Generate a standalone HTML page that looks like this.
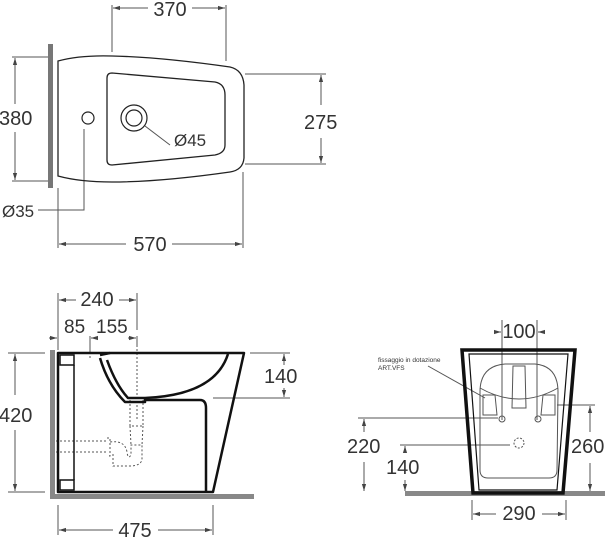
<!DOCTYPE html>
<html><head><style>html,body{margin:0;padding:0;background:#fff}svg{display:block}text{font-family:"Liberation Sans",sans-serif;fill:#333}</style></head><body>
<svg width="605" height="538" viewBox="0 0 605 538" xmlns="http://www.w3.org/2000/svg">
<defs><marker id="a" viewBox="0 0 10 10" refX="10" refY="5" markerWidth="7" markerHeight="7" orient="auto-start-reverse"><path d="M0,2 L10,5 L0,8z" fill="#444"/></marker></defs>
<g stroke="#555" stroke-width="1" fill="none">
<line x1="112" y1="5" x2="112" y2="52"/><line x1="226" y1="5" x2="226" y2="61"/>
<line x1="113" y1="8" x2="148" y2="8" marker-start="url(#a)"/><line x1="192" y1="8" x2="225" y2="8" marker-end="url(#a)"/>
<line x1="12" y1="57" x2="48" y2="57"/><line x1="12" y1="181" x2="48" y2="181"/>
<line x1="15" y1="58" x2="15" y2="104" marker-start="url(#a)"/><line x1="15" y1="132" x2="15" y2="180" marker-end="url(#a)"/>
<line x1="245" y1="74" x2="326" y2="74"/><line x1="245" y1="164" x2="326" y2="164"/>
<line x1="321" y1="75" x2="321" y2="105" marker-start="url(#a)"/><line x1="321" y1="138" x2="321" y2="163" marker-end="url(#a)"/>
<polyline points="84,129 84,210 38,210"/>
<line x1="145" y1="126" x2="170" y2="145"/>
<line x1="58" y1="188" x2="58" y2="248"/><line x1="243" y1="172" x2="243" y2="248"/>
<line x1="59" y1="244" x2="126" y2="244" marker-start="url(#a)"/><line x1="172" y1="244" x2="242" y2="244" marker-end="url(#a)"/>
</g>
<rect x="48" y="44" width="5" height="144" fill="#777"/>
<path d="M58,61 Q80,55 112,56 Q160,57 230,67 Q243,70 244,85 L244,158 Q243,170 230,172 Q160,182 112,182 Q80,182 58,176 Z" fill="none" stroke="#222" stroke-width="1.3"/>
<path d="M112,73 L215,82 Q225,84 225,95 L225,145 Q225,153 215,155 L112,165 Q107,165 107,160 L107,78 Q107,73 112,73 Z" fill="none" stroke="#222" stroke-width="1.3"/>
<circle cx="88" cy="118" r="6" fill="none" stroke="#222" stroke-width="1.2"/>
<circle cx="134" cy="118" r="13" fill="none" stroke="#222" stroke-width="1.2"/>
<circle cx="134" cy="118" r="8" fill="none" stroke="#222" stroke-width="1.2"/>
<g font-size="20">
<text x="170" y="16" text-anchor="middle">370</text>
<text x="-1" y="125">380</text>
<text x="304" y="129">275</text>
<text x="174" y="146" font-size="17">Ø45</text>
<text x="2" y="217" font-size="17">Ø35</text>
<text x="150" y="251" text-anchor="middle">570</text>
<text x="97" y="306" text-anchor="middle">240</text>
<text x="64" y="333" font-size="19">85</text>
<text x="96" y="333" font-size="19">155</text>
<text x="-1" y="422">420</text>
<text x="264" y="383">140</text>
<text x="135" y="537" text-anchor="middle">475</text>
<text x="519" y="338" text-anchor="middle">100</text>
<text x="347" y="453">220</text>
<text x="386" y="474">140</text>
<text x="571" y="453">260</text>
<text x="519" y="520" text-anchor="middle">290</text>
</g>
<g stroke="#555" stroke-width="1" fill="none">
<line x1="58" y1="293" x2="58" y2="350"/><line x1="137" y1="293" x2="137" y2="330"/>
<line x1="59" y1="300" x2="76" y2="300" marker-start="url(#a)"/><line x1="119" y1="300" x2="136" y2="300" marker-end="url(#a)"/>
<line x1="90" y1="336" x2="90" y2="352"/><line x1="137" y1="336" x2="137" y2="345"/>
<line x1="49" y1="338" x2="57" y2="338" marker-end="url(#a)"/><line x1="91" y1="338" x2="97" y2="338" marker-start="url(#a)"/><line x1="128" y1="338" x2="136" y2="338" marker-end="url(#a)"/>
<line x1="8" y1="353" x2="45" y2="353"/><line x1="8" y1="492" x2="45" y2="492"/>
<line x1="15" y1="354" x2="15" y2="395" marker-start="url(#a)"/><line x1="15" y1="430" x2="15" y2="491" marker-end="url(#a)"/>
<line x1="250" y1="353" x2="290" y2="353"/><line x1="213" y1="398" x2="290" y2="398"/>
<line x1="284" y1="354" x2="284" y2="365" marker-start="url(#a)"/><line x1="284" y1="388" x2="284" y2="397" marker-end="url(#a)"/>
<line x1="58" y1="505" x2="58" y2="535"/><line x1="213" y1="505" x2="213" y2="535"/>
<line x1="59" y1="530" x2="113" y2="530" marker-start="url(#a)"/><line x1="158" y1="530" x2="212" y2="530" marker-end="url(#a)"/>
<g stroke-dasharray="2,2"><line x1="137" y1="345" x2="137" y2="420"/><line x1="90" y1="352" x2="90" y2="360"/>
<path d="M52,441 L107,441 M52,452 L107,452 M107,438 L110,438 L110,456 L107,456 M110,442 Q125,440 127,452 Q128,460 131,455 L131,445 L142,445 L142,460 Q140,466 130,466 L113,466 L113,452"/>
<path d="M130,400 L130,426 L143,426 L143,400 M130,426 L131,445 M143,426 L142,445"/></g>
</g>
<rect x="50" y="350" width="5" height="148" fill="#888"/><rect x="50" y="494" width="204" height="5" fill="#888"/>
<g stroke="#111" stroke-width="2.5" fill="none" stroke-linejoin="round">
<path d="M58,353 L244,353 L213,492 L58,492 Z"/>
<path d="M228,354 Q215,395 145,398"/>
<path d="M100,355 L110,353 M100,358 Q108,385 125,402 L145,402 L145,398 M107,360 Q116,385 128,398 L145,398"/>
<path d="M145,400 L200,400 Q206,400 206,408 L206,492"/>
</g>
<g stroke="#111" stroke-width="1.5" fill="none">
<rect x="60" y="355" width="14" height="10"/><rect x="60" y="480" width="14" height="10"/>
<line x1="74" y1="365" x2="74" y2="480"/>
</g>
<g stroke="#555" stroke-width="1" fill="none">
<line x1="502" y1="320" x2="502" y2="420"/><line x1="537" y1="320" x2="537" y2="420"/>
<line x1="494" y1="332" x2="501" y2="332" marker-end="url(#a)"/><line x1="545" y1="332" x2="538" y2="332" marker-end="url(#a)"/>
<line x1="557" y1="405" x2="595" y2="405"/>
<line x1="590" y1="406" x2="590" y2="432" marker-start="url(#a)"/><line x1="590" y1="463" x2="590" y2="491" marker-end="url(#a)"/>
<line x1="358" y1="418" x2="498" y2="418"/>
<line x1="364" y1="419" x2="364" y2="432" marker-start="url(#a)"/><line x1="364" y1="462" x2="364" y2="491" marker-end="url(#a)"/>
<line x1="400" y1="445" x2="510" y2="445"/>
<line x1="405" y1="446" x2="405" y2="452" marker-start="url(#a)"/><line x1="405" y1="480" x2="405" y2="491" marker-end="url(#a)"/>
<line x1="472" y1="500" x2="472" y2="520"/><line x1="566" y1="500" x2="566" y2="520"/>
<line x1="473" y1="514" x2="496" y2="514" marker-start="url(#a)"/><line x1="542" y1="514" x2="565" y2="514" marker-end="url(#a)"/>
<line x1="428" y1="366" x2="485" y2="398"/>
<circle cx="519" cy="443" r="5" stroke-dasharray="2,1.5"/>
</g>
<rect x="405" y="491" width="200" height="5" fill="#888"/>
<path d="M462,350 L575,350 L563,493 L473,493 Z" fill="none" stroke="#111" stroke-width="3.5"/>
<path d="M469,354 L568,354 L557,490 L479,490 Z" fill="none" stroke="#111" stroke-width="1.2"/>
<g stroke="#555" stroke-width="1" fill="none">
<path d="M480,392 Q480,366 505,364 L535,364 Q558,366 558,392 L557,470 Q557,478 549,478 L488,478 Q480,478 480,470 Z"/>
<path d="M480,388 Q519,410 558,388"/>
<path d="M513,366 L525,366 L526,408 L512,408 Z"/>
<circle cx="502" cy="419" r="3"/><circle cx="538" cy="419" r="3"/>
<path d="M483,395 L495,395 L497,415 L483,415 Z M543,395 L555,395 L555,415 L541,415 Z"/>
</g>
<text x="378" y="362" font-size="6.5">fissaggio in dotazione</text>
<text x="378" y="370" font-size="6.5">ART.VFS</text>
</svg>
</body></html>
